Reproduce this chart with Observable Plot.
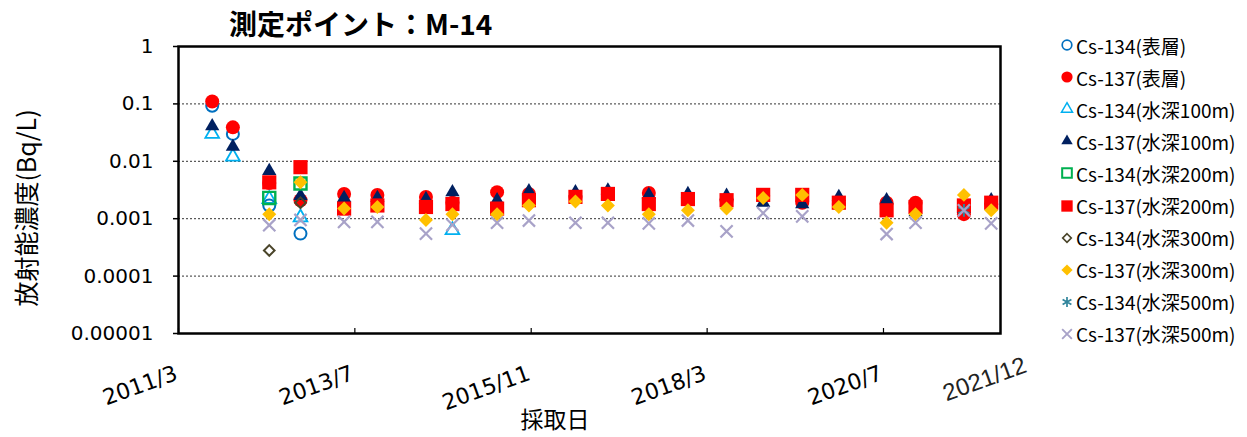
<!DOCTYPE html>
<html><head><meta charset="utf-8">
<script src="https://cdn.jsdelivr.net/npm/d3@7"></script>
<script src="https://cdn.jsdelivr.net/npm/@observablehq/plot@0.6"></script>
<style>
body{margin:0;background:#fff;}
#wrap{position:relative;width:1247px;height:437px;overflow:hidden;font-family:"Noto Sans CJK JP","Noto Sans",sans-serif;color:#000;}
#chart{position:absolute;left:0;top:0;}
.ov{position:absolute;white-space:nowrap;}
#title{left:229px;top:9px;font-size:28px;line-height:28px;font-weight:bold;}
#ylab{left:25px;top:208px;font-size:25px;line-height:26px;transform:translate(-50%,-50%) rotate(-90deg);}
#xlab{left:555px;top:418px;font-size:23px;line-height:24px;transform:translate(-50%,-50%);}
.lg{position:absolute;left:1059px;height:22px;display:flex;align-items:center;font-size:19px;white-space:nowrap;}
.lg svg{margin-right:1px;}
</style>
</head><body>
<div id="wrap">
<div id="chart"></div>
<div id="title" class="ov">測定ポイント：M-14</div>
<div id="ylab" class="ov">放射能濃度(Bq/L)</div>
<div id="xlab" class="ov">採取日</div>
<div id="legend"></div>
</div>
<script>
// ---- data ----
const sampleDates = ["2011-08-11","2011-11-19","2012-05-13","2012-10-11","2013-05-10","2013-10-18","2014-06-10","2014-10-16","2015-05-20","2015-10-21","2016-06-02","2016-11-06","2017-05-23","2017-11-28","2018-06-03","2018-11-27","2019-06-04","2019-11-28","2020-07-16","2020-12-03","2021-07-25","2021-12-04"];
const seriesNames = ["Cs-134(表層)","Cs-137(表層)","Cs-134(水深100m)","Cs-137(水深100m)","Cs-134(水深200m)","Cs-137(水深200m)","Cs-134(水深300m)","Cs-137(水深300m)","Cs-134(水深500m)","Cs-137(水深500m)"];
const cs134Surface = [0.093,0.030,0.0017,0.00055,null,null,null,null,null,null,null,null,null,null,null,null,null,null,null,null,null,null];
const cs137Surface = [0.11,0.039,0.0042,0.0021,0.0027,0.0026,0.0024,0.0019,0.0029,0.0027,0.0024,0.0027,0.0028,0.0022,0.0021,0.0025,0.0019,0.0018,0.0019,0.0019,0.0012,0.0018];
const cs134D100 = [0.030,0.012,0.0022,0.00105,null,null,null,0.00063,null,null,null,null,null,null,null,null,null,null,null,null,null,null];
const cs137D100 = [0.041,0.018,0.0068,0.0025,0.0023,0.0023,0.0022,0.0029,0.0021,0.0030,0.0029,0.0031,0.0026,0.0027,0.0025,0.0019,0.0018,0.0024,0.0021,0.0013,0.0015,0.0021];
const cs134D200 = [null,null,0.0023,0.0041,null,null,null,null,null,null,null,null,null,null,null,null,null,null,null,null,null,null];
const cs137D200 = [null,null,0.0043,0.0079,0.0015,0.0017,0.0016,0.0018,0.0015,0.0021,0.0024,0.0027,0.0018,0.0022,0.0021,0.0026,0.0026,0.0019,0.0014,0.0016,0.0017,0.0019];
const cs134D300 = [null,null,0.00028,0.0019,null,null,null,null,null,null,null,null,null,null,null,null,null,null,null,null,null,null];
const cs137D300 = [null,null,0.0012,0.0043,0.0015,0.0016,0.00095,0.0012,0.0012,0.0017,0.0020,0.0017,0.0012,0.0014,0.0015,0.0023,0.0026,0.0016,0.00085,0.0012,0.0026,0.0014];
const cs134D500 = [null,null,null,null,null,null,null,null,null,null,null,null,null,null,null,null,null,null,null,null,0.0014,null];
const cs137D500 = [null,null,0.00077,0.00095,0.00088,0.00088,0.00055,0.00078,0.00085,0.00093,0.00085,0.00085,0.00083,0.00093,0.00060,0.00125,0.0011,null,0.00054,0.00085,0.0014,0.00083];
const seriesValues = [cs134Surface,cs137Surface,cs134D100,cs137D100,cs134D200,cs137D200,cs134D300,cs137D300,cs134D500,cs137D500];

const xTickDates = ["2011-03-01","2013-07-01","2015-11-01","2018-03-01","2020-07-01"];
const xTickLabels = ["2011/3","2013/7","2015/11","2018/3","2020/7"];
const xEndDate = "2022-01-18";
const xEndLabel = "2021/12";
const yTicks = [1,0.1,0.01,0.001,0.0001,0.00001];
const yTickLabels = ["1","0.1","0.01","0.001","0.0001","0.00001"];
const gridValues = [0.1,0.01,0.001,0.0001];

// ---- styles ----
const styles = [
  {symbol:"circle", r:6, fill:"none", stroke:"#0070C0", strokeWidth:2},
  {symbol:"circle", r:7, fill:"#FF0000", stroke:"none"},
  {symbol:"triangle", r:5.1, fill:"none", stroke:"#00B0F0", strokeWidth:1.8},
  {symbol:"triangle", r:5.3, fill:"#002060", stroke:"none"},
  {symbol:"square", r:6.8, fill:"none", stroke:"#00B050", strokeWidth:2.4},
  {symbol:"square", r:8, fill:"#FF0000", stroke:"none"},
  {symbol:"diamond2", r:4.8, fill:"none", stroke:"#4A452A", strokeWidth:2},
  {symbol:"diamond2", r:6.3, fill:"#FFC000", stroke:"none"},
  {symbol:"asterisk", r:6, fill:"none", stroke:"#31859C", strokeWidth:2},
  {symbol:"times", r:5.6, fill:"none", stroke:"#A8A2C8", strokeWidth:2.2}
];

const parse = d3.utcParse("%Y-%m-%d");
const yLabelMap = new Map(yTicks.map((t,i)=>[t, yTickLabels[i]]));

const dotMarks = seriesValues.map((vals, s) => {
  const rows = [];
  vals.forEach((v,i) => { if (v != null) rows.push({date: parse(sampleDates[i]), value: v}); });
  const st = styles[s];
  return Plot.dot(rows, {x:"date", y:"value", symbol: () => st.symbol, r: st.r, fill: st.fill, stroke: st.stroke, strokeWidth: st.strokeWidth || 1});
});

const chart = Plot.plot({
  width: 1247, height: 437,
  marginLeft: 178, marginRight: 247, marginTop: 46, marginBottom: 104,
  style: {fontFamily: "DejaVu Sans, sans-serif", fontSize: "20px", background: "transparent", overflow: "visible"},
  x: {type: "utc", domain: [parse(xTickDates[0]), parse(xEndDate)]},
  y: {type: "log", domain: [1e-5, 1]},
  symbol: {type: "identity"},
  marks: [
    Plot.ruleY(gridValues, {stroke: "#333", strokeWidth: 1, strokeDasharray: "2,2"}),
    ...dotMarks,
    Plot.axisY({ticks: yTicks, tickFormat: d => yLabelMap.get(d), tickSize: 5, tickPadding: 20, fontSize: 20, fontFamily: "DejaVu Sans", label: null, stroke: "#000", strokeWidth: 1.5}),
    Plot.axisX({ticks: xTickDates.map(parse), tickSize: -5, tickFormat: () => "", label: null, stroke: "#000", strokeWidth: 1.2}),
    Plot.text(xTickDates.map(parse), {x: d => d, text: (d,i) => xTickLabels[i], frameAnchor: "bottom", rotate: -20, textAnchor: "end", lineAnchor: "middle", dy: 39, dx: -2, fontSize: 22, fontFamily: "DejaVu Sans", fill: "#000"}),
    Plot.text([parse(xEndDate)], {x: d => d, text: () => xEndLabel, frameAnchor: "bottom", rotate: -20, textAnchor: "end", lineAnchor: "middle", dy: 31, dx: 25, fontSize: 24, fontFamily: "Liberation Sans", fill: "#222"}),
    Plot.frame({stroke: "#000", strokeWidth: 2.5})
  ]
});
document.getElementById("chart").appendChild(chart);

// ---- legend ----
const legendScale = 0.8;
const symMap = {circle: d3.symbolCircle, triangle: d3.symbolTriangle, square: d3.symbolSquare, diamond2: d3.symbolDiamond2, asterisk: d3.symbolAsterisk, times: d3.symbolTimes};
const legend = document.getElementById("legend");
seriesNames.forEach((name, i) => {
  const st = styles[i];
  const rr = st.r * legendScale;
  const path = d3.symbol(symMap[st.symbol], Math.PI * rr * rr)();
  const row = document.createElement("div");
  row.className = "lg";
  row.style.top = (45 + 32.1 * i - 11) + "px";
  row.innerHTML = `<svg width="16" height="16" viewBox="-8 -8 16 16"><path d="${path}" fill="${st.fill}" stroke="${st.stroke}" stroke-width="${(st.strokeWidth||1)*0.85}"/></svg><span>${name}</span>`;
  legend.appendChild(row);
});
</script>
</body></html>
